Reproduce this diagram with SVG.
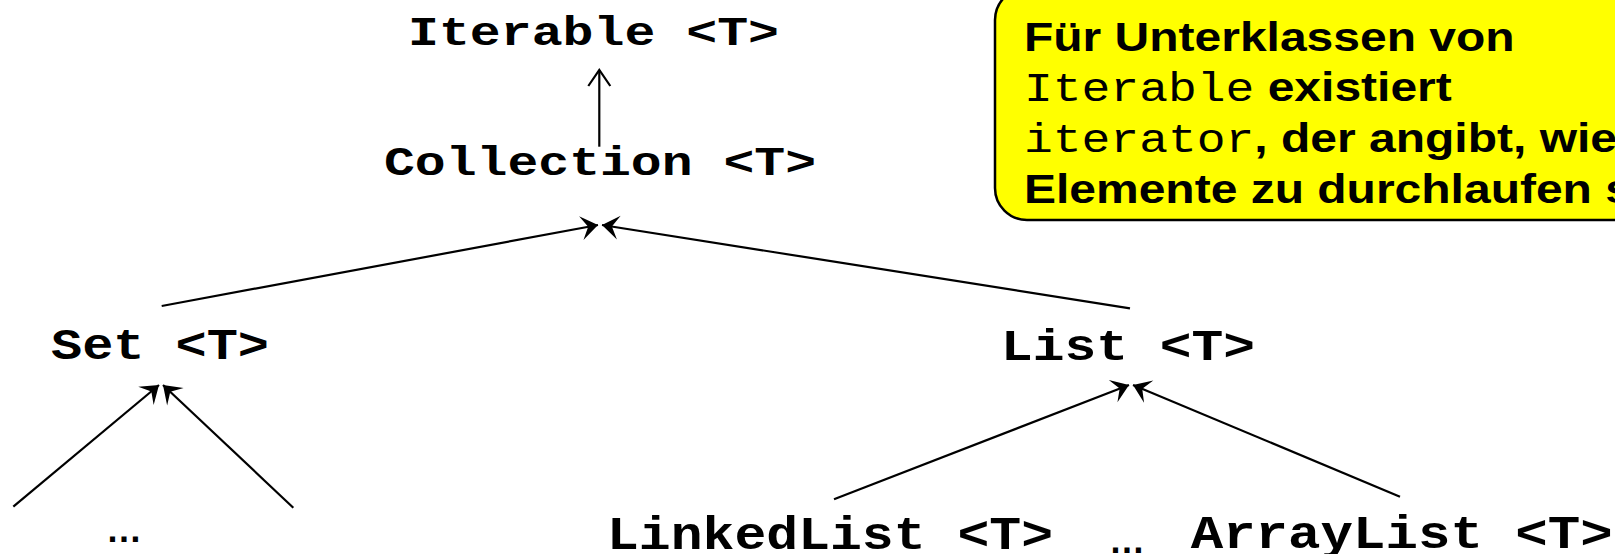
<svg xmlns="http://www.w3.org/2000/svg" width="1615" height="554" viewBox="0 0 1615 554">
<style>
.node{font-family:"Liberation Mono","Courier New",monospace;font-weight:bold;fill:#000}
.box{fill:#FFFF00;stroke:#000;stroke-width:2.5}
.note{font-family:"Liberation Sans",Arial,sans-serif;font-weight:bold;font-size:40px;fill:#000}
.mono{font-family:"Liberation Mono","Courier New",monospace;font-weight:normal}
.conn{stroke:#000;stroke-width:2.2;fill:none}
.dots{font-family:"Liberation Sans",Arial,sans-serif;font-weight:bold;font-size:36px;fill:#000}
</style>
<defs>
<marker id="stealth" markerUnits="userSpaceOnUse" viewBox="-18 -14 19 28" refX="0" refY="0" markerWidth="19" markerHeight="28" orient="auto">
<path d="M0,0 L-17,-12 L-10,0 L-17,12 Z" fill="#000"/>
</marker>
<marker id="open" markerUnits="userSpaceOnUse" viewBox="-18 -13 20 26" refX="0" refY="0" markerWidth="20" markerHeight="26" orient="auto">
<path d="M-16,-11 L0,0 L-16,11" fill="none" stroke="#000" stroke-width="2.2"/>
</marker>
</defs>
<g id="note">
<rect class="box" x="995" y="-12" width="700" height="232" rx="32" ry="32"/>
<g transform="scale(1.2,1)">
<text class="note" x="853.3" y="51">Für Unterklassen von</text>
<text class="note" x="853.3" y="101"><tspan class="mono">Iterable</tspan><tspan> existiert</tspan></text>
<text class="note" x="853.3" y="152"><tspan class="mono">iterator</tspan><tspan>, der angibt, wie</tspan></text>
<text class="note" x="853.3" y="203">Elemente zu durchlaufen s</text>
</g>
</g>
<g id="connectors">
<line class="conn" x1="599.3" y1="146.7" x2="599.3" y2="70" marker-end="url(#open)"/>
<line class="conn" x1="161.7" y1="306" x2="598" y2="225" marker-end="url(#stealth)"/>
<line class="conn" x1="1130" y1="308.3" x2="602" y2="225" marker-end="url(#stealth)"/>
<line class="conn" x1="13.3" y1="506.7" x2="159" y2="385" marker-end="url(#stealth)"/>
<line class="conn" x1="293.3" y1="507.7" x2="163" y2="385" marker-end="url(#stealth)"/>
<line class="conn" x1="834" y1="499.3" x2="1129" y2="385" marker-end="url(#stealth)"/>
<line class="conn" x1="1400" y1="496.7" x2="1133" y2="385" marker-end="url(#stealth)"/>
</g>
<g id="iterable"><text class="node" x="593.5" y="45" font-size="40" text-anchor="middle" textLength="371" lengthAdjust="spacingAndGlyphs">Iterable &lt;T&gt;</text></g>
<g id="collection"><text class="node" x="600" y="175" font-size="40" text-anchor="middle" textLength="432" lengthAdjust="spacingAndGlyphs">Collection &lt;T&gt;</text></g>
<g id="set"><text class="node" x="160" y="359" font-size="44" text-anchor="middle" textLength="218" lengthAdjust="spacingAndGlyphs">Set &lt;T&gt;</text></g>
<g id="list"><text class="node" x="1128" y="360" font-size="44" text-anchor="middle" textLength="254" lengthAdjust="spacingAndGlyphs">List &lt;T&gt;</text></g>
<g id="set-more"><text class="dots" x="124" y="542" text-anchor="middle">…</text></g>
<g id="linkedlist"><text class="node" x="830" y="549" font-size="46" text-anchor="middle" textLength="446" lengthAdjust="spacingAndGlyphs">LinkedList &lt;T&gt;</text></g>
<g id="list-more"><text class="dots" x="1127" y="553" text-anchor="middle">…</text></g>
<g id="arraylist"><text class="node" x="1401.7" y="548" font-size="46" text-anchor="middle" textLength="422" lengthAdjust="spacingAndGlyphs">ArrayList &lt;T&gt;</text></g>
</svg>
